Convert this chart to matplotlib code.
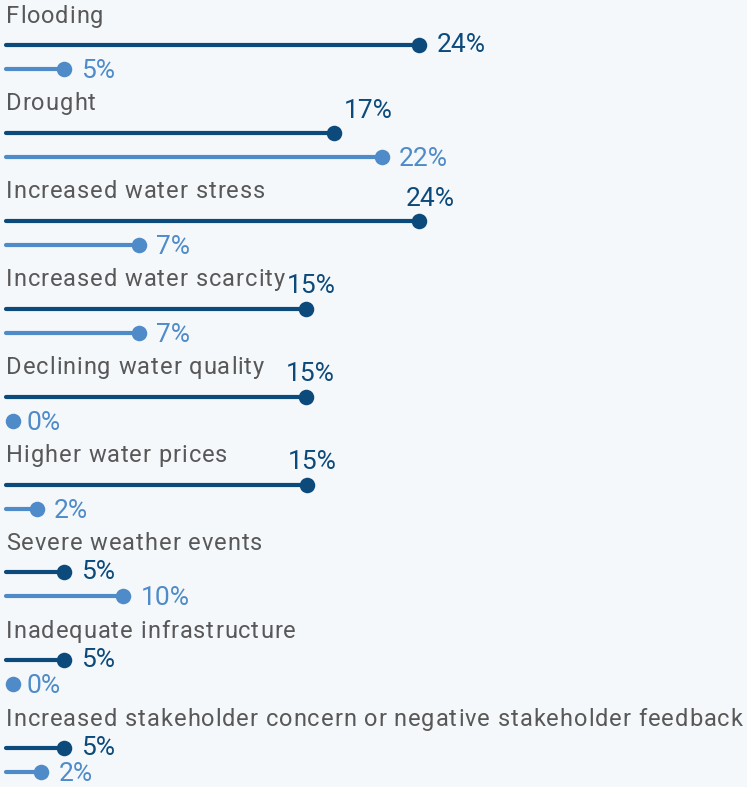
import matplotlib.pyplot as plt
from matplotlib.text import Text

# Categories (top to bottom)
categories = [
    "Flooding",
    "Drought",
    "Increased water stress",
    "Increased water scarcity",
    "Declining water quality",
    "Higher water prices",
    "Severe weather events",
    "Inadequate infrastructure",
    "Increased stakeholder concern or negative stakeholder feedback",
]

# Bar lengths as drawn in the picture (percent units)
dark_vals = [24.0, 19.0, 24.0, 17.3, 17.3, 17.4, 3.0, 3.0, 3.0]
light_vals = [3.0, 21.8, 7.45, 7.45, 0.0, 1.4, 6.5, 0.0, 1.65]

# Value labels as printed
dark_labels = ["24%", "17%", "24%", "15%", "15%", "15%", "5%", "5%", "5%"]
light_labels = ["5%", "22%", "7%", "7%", "0%", "2%", "10%", "0%", "2%"]

# Layout of dark value labels: None = right of dot, number = px shift of centre when above
dark_above_dx = [None, 34, 11, 6, 5, 5, None, None, None]

DARK = "#0d4a7c"
LIGHT = "#4f8bc9"
GREY = "#585858"
BG = "#f4f8fa"
FONT = ["Roboto", "DejaVu Sans"]

W, H = 747, 787
fig = plt.figure(figsize=(W / 100, H / 100), dpi=100, facecolor=BG)
ax = fig.add_axes([0, 0, 1, 1])
ax.set_facecolor(BG)

# pixel mapping: 0% -> 13px, 16.92px per percent; row pitch 87.9px
px_per = 16.92
x0 = 13
pitch = 87.9
top = 45
ax.set_xlim(-x0 / px_per, (W - x0) / px_per)
ax.set_ylim((H - top) / pitch, -top / pitch)
ax.axis("off")

renderer = fig.canvas.get_renderer()
probe = Text(0, 0, "", fontsize=17, family=FONT)
probe.set_figure(fig)


def spaced_text(y, s, spacing_px=1.0):
    """Category label with a little letter spacing, drawn char by char."""
    for k, ch in enumerate(s):
        probe.set_text(s[:k] if k else "")
        w = probe.get_window_extent(renderer).width if k else 0.0
        ax.annotate(ch, (6 / W, y), xycoords=ax.get_yaxis_transform(),
                    xytext=((w + k * spacing_px) * 0.72, 0), textcoords="offset points",
                    ha="left", va="center", fontsize=17, color=GREY, family=FONT)


label_off = -29 / pitch
light_off = 24 / pitch

for i, cat in enumerate(categories):
    spaced_text(i + label_off, cat, 0.95)

    for val, txt, off, color, dx in [
        (dark_vals[i], dark_labels[i], 0, DARK, dark_above_dx[i]),
        (light_vals[i], light_labels[i], light_off, LIGHT, None),
    ]:
        y = i + off
        if val > 0:
            ax.plot([-0.4, val], [y, y], color=color, lw=3.0,
                    solid_capstyle="round", zorder=2)
        ax.scatter([val], [y], s=125, color=color, zorder=3, linewidths=0)
        if dx is not None:
            ax.annotate(txt, (val, y), xytext=(dx * 0.72, 16), textcoords="offset points",
                        ha="center", va="center", fontsize=19, color=color, family=FONT)
        else:
            dy = 0 if color == DARK else -1.5
            gap = 10 if val == 0 else 12.5
            ax.annotate(txt, (val, y), xytext=(gap, dy), textcoords="offset points",
                        ha="left", va="center", fontsize=19, color=color, family=FONT)

fig.savefig("out.png", dpi=100, facecolor=BG)
